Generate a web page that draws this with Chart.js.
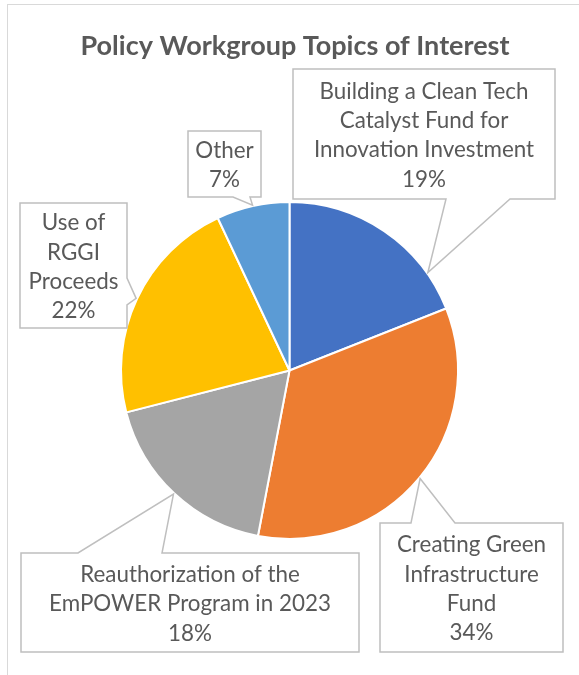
<!DOCTYPE html>
<html><head><meta charset="utf-8">
<script src="https://cdn.jsdelivr.net/npm/chart.js@4.4.1/dist/chart.umd.min.js"></script>
<style>html,body{margin:0;padding:0;background:#fff;overflow:hidden}canvas{display:block}</style>
</head><body>
<canvas id="c" width="579" height="675"></canvas>
<script>
const chartTitle = "Policy Workgroup Topics of Interest";
const categories = [
  ["Building a Clean Tech", "Catalyst Fund for", "Innovation Investment"],
  ["Creating Green", "Infrastructure", "Fund"],
  ["Reauthorization of the", "EmPOWER Program in 2023"],
  ["Use of", "RGGI", "Proceeds"],
  ["Other"]
];
const values = [19, 34, 18, 22, 7];
const colors = ["#4472C4", "#ED7D31", "#A5A5A5", "#FFC000", "#5B9BD5"];

// callout box layout (position of each label box and its pointer)
const callouts = [
  {box: [293, 69, 262, 130], side: "bottom", base: [446, 510], at: 0.8},
  {box: [380, 523, 183, 129], side: "top", base: [411, 455], at: 0.5},
  {box: [21, 553, 338, 99], side: "top", base: [78, 162], at: 0.5},
  {box: [20, 203, 107, 125], side: "right", base: [278, 305], at: 0.5},
  {box: [188, 131, 73, 66], side: "bottom", base: [233, 250], at: 0.5}
];

const FONT = "Lato, 'Open Sans', sans-serif";
const TEXT_COLOR = "#595959";
const LABEL_SIZE = 22.4;
const LINE_H = 29.3;

const decor = {
  id: "decor",
  beforeDraw(chart) {
    const ctx = chart.ctx;
    ctx.save();
    ctx.fillStyle = "#fff";
    ctx.fillRect(0, 0, chart.width, chart.height);
    ctx.strokeStyle = "#D9D9D9";
    ctx.lineWidth = 1;
    ctx.strokeRect(7.5, 4.5, chart.width + 20, chart.height + 20);
    ctx.fillStyle = TEXT_COLOR;
    ctx.font = "bold 27px " + FONT;
    ctx.textAlign = "center";
    ctx.textBaseline = "middle";
    ctx.fillText(chartTitle, 295, 46);
    ctx.restore();
  },
  afterDraw(chart) {
    const ctx = chart.ctx;
    const meta = chart.getDatasetMeta(0);
    const total = values.reduce((a, b) => a + b, 0);
    ctx.save();
    meta.data.forEach((arc, i) => {
      const c = callouts[i];
      const p = arc.getProps(["x", "y", "startAngle", "endAngle", "outerRadius"], true);
      const ang = p.startAngle + c.at * (p.endAngle - p.startAngle);
      const tr = p.outerRadius + 1;
      const tx = p.x + tr * Math.cos(ang), ty = p.y + tr * Math.sin(ang);
      const [x, y, w, h] = c.box;
      ctx.beginPath();
      if (c.side === "bottom") {
        ctx.moveTo(x, y); ctx.lineTo(x + w, y); ctx.lineTo(x + w, y + h);
        ctx.lineTo(c.base[1], y + h); ctx.lineTo(tx, ty); ctx.lineTo(c.base[0], y + h);
        ctx.lineTo(x, y + h);
      } else if (c.side === "top") {
        ctx.moveTo(x, y); ctx.lineTo(c.base[0], y); ctx.lineTo(tx, ty); ctx.lineTo(c.base[1], y);
        ctx.lineTo(x + w, y); ctx.lineTo(x + w, y + h); ctx.lineTo(x, y + h);
      } else {
        ctx.moveTo(x, y); ctx.lineTo(x + w, y); ctx.lineTo(x + w, c.base[0]); ctx.lineTo(tx, ty);
        ctx.lineTo(x + w, c.base[1]); ctx.lineTo(x + w, y + h); ctx.lineTo(x, y + h);
      }
      ctx.closePath();
      ctx.fillStyle = "#fff";
      ctx.fill();
      ctx.strokeStyle = "#BFBFBF";
      ctx.lineWidth = 1.5;
      ctx.lineJoin = "miter";
      ctx.stroke();
      const lines = categories[i].concat([Math.round(values[i] / total * 100) + "%"]);
      ctx.fillStyle = TEXT_COLOR;
      ctx.font = LABEL_SIZE + "px " + FONT;
      ctx.textAlign = "center";
      ctx.textBaseline = "middle";
      const top = y + (h - lines.length * LINE_H) / 2 + LINE_H / 2 + 1.5;
      lines.forEach((ln, k) => ctx.fillText(ln, x + w / 2, top + k * LINE_H));
    });
    ctx.restore();
  }
};

new Chart(document.getElementById("c"), {
  type: "pie",
  data: {
    labels: categories,
    datasets: [{
      data: values,
      backgroundColor: colors,
      borderColor: "#fff",
      borderWidth: 2
    }]
  },
  options: {
    responsive: false,
    devicePixelRatio: 1,
    animation: false,
    layout: {padding: {left: 120, right: 120, top: 201, bottom: 135}},
    plugins: {legend: {display: false}, tooltip: {enabled: false}, title: {display: false}}
  },
  plugins: [decor]
});
</script>
</body></html>
